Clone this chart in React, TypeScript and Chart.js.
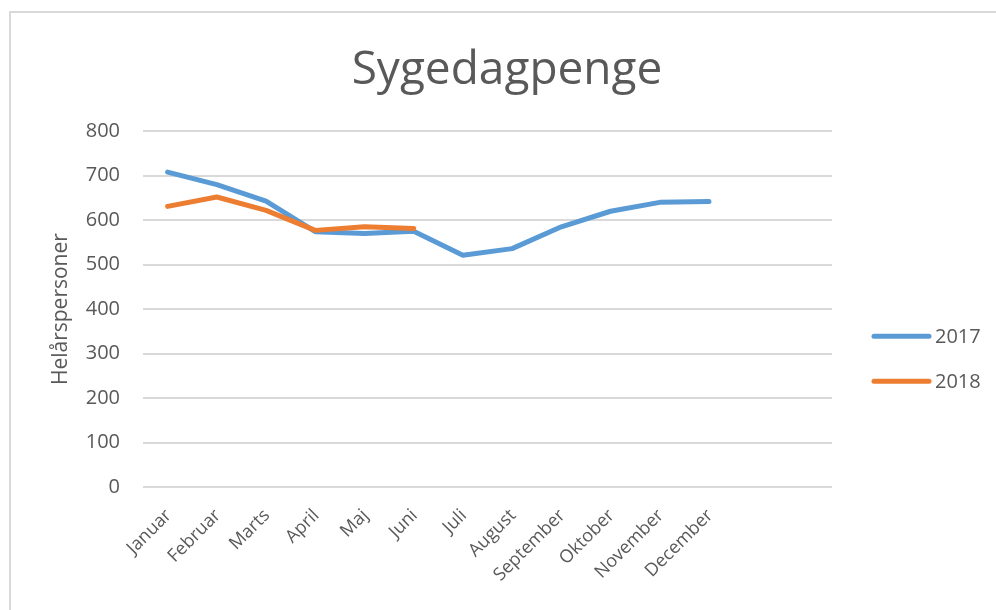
import React, { useEffect, useRef } from "react";
import { Chart, registerables } from "chart.js";

Chart.register(...registerables);

const months = [
  "Januar", "Februar", "Marts", "April", "Maj", "Juni",
  "Juli", "August", "September", "Oktober", "November", "December", "", "",
];
const values2017 = [708, 680, 643, 574, 570, 575, 521, 536, 585, 620, 640, 642, null, null];
const values2018 = [631, 652, 622, 577, 585, 581, null, null, null, null, null, null, null, null];
const yTicks = [0, 100, 200, 300, 400, 500, 600, 700, 800];

const TEXT = "#595959";
const FONT = '"Open Sans", "Noto Sans", sans-serif';

const sideLegend = {
  id: "sideLegend",
  afterDraw(chart: any) {
    const { ctx, chartArea } = chart;
    chart.data.datasets.forEach((ds: any, i: number) => {
      const y = chartArea.top + 205 + i * 45;
      const x0 = chartArea.right + 42;
      ctx.save();
      ctx.strokeStyle = ds.borderColor;
      ctx.lineWidth = 5;
      ctx.lineCap = "round";
      ctx.beginPath();
      ctx.moveTo(x0, y);
      ctx.lineTo(x0 + 55, y);
      ctx.stroke();
      ctx.fillStyle = TEXT;
      ctx.font = `20px ${FONT}`;
      ctx.textBaseline = "middle";
      ctx.textAlign = "left";
      ctx.fillText(ds.label, x0 + 61, y + 1);
      ctx.restore();
    });
  },
};

export default function App() {
  const ref = useRef<HTMLCanvasElement | null>(null);

  useEffect(() => {
    if (!ref.current) return;
    const chart = new Chart(ref.current, {
      type: "line",
      data: {
        labels: months,
        datasets: [
          {
            label: "2017",
            data: values2017,
            borderColor: "#5B9BD5",
            backgroundColor: "#5B9BD5",
            borderWidth: 5,
            pointRadius: 0,
            tension: 0,
            borderCapStyle: "round",
            borderJoinStyle: "round",
            order: 1,
          },
          {
            label: "2018",
            data: values2018,
            borderColor: "#ED7D31",
            backgroundColor: "#ED7D31",
            borderWidth: 5,
            pointRadius: 0,
            tension: 0,
            borderCapStyle: "round",
            borderJoinStyle: "round",
            order: 0,
          },
        ],
      },
      options: {
        responsive: false,
        animation: false,
        layout: { padding: { left: 18, right: 0, top: 0, bottom: 0 } },
        plugins: {
          legend: { display: false },
          tooltip: { enabled: false },
          title: {
            display: true,
            text: "Sygedagpenge",
            color: TEXT,
            font: { family: FONT, size: 46, weight: "normal" },
            padding: { top: 43, bottom: 33 },
          },
        },
        scales: {
          x: {
            type: "category",
            offset: true,
            grid: { display: false, drawTicks: false },
            border: { display: false },
            ticks: {
              color: TEXT,
              font: { family: FONT, size: 18 },
              minRotation: 45,
              maxRotation: 45,
              autoSkip: false,
              padding: 18,
              labelOffset: 1,
            },
            afterFit(scale: any) {
              scale.height = 123;
            },
          },
          y: {
            min: 0,
            max: 800,
            afterBuildTicks(scale: any) {
              scale.ticks = yTicks.map((v) => ({ value: v }));
            },
            grid: { color: "#d9d9d9", lineWidth: 2, drawTicks: false },
            border: { display: false },
            ticks: {
              color: TEXT,
              font: { family: FONT, size: 20 },
              padding: 23,
            },
            title: {
              display: true,
              text: "Helårspersoner",
              color: TEXT,
              font: { family: FONT, size: 21 },
              padding: { top: 30, bottom: 0 },
            },
            afterFit(scale: any) {
              scale.width = 125;
            },
          },
          spacer: {
            type: "linear",
            position: "right",
            display: true,
            grid: { display: false, drawTicks: false },
            border: { display: false },
            ticks: { display: false },
            afterFit(scale: any) {
              scale.width = 164;
            },
          },
        },
      },
      plugins: [sideLegend],
    } as any);
    return () => chart.destroy();
  }, []);

  return (
    <div
      style={{
        position: "fixed",
        left: 0,
        top: 0,
        width: 996,
        height: 610,
        overflow: "hidden",
        background: "#ffffff",
      }}
    >
      <div
        style={{
          position: "absolute",
          left: 9,
          top: 11,
          width: 1100,
          height: 800,
          border: "2px solid #d9d9d9",
          boxSizing: "border-box",
        }}
      />
      <canvas
        ref={ref}
        width={996}
        height={610}
        style={{ position: "absolute", left: 0, top: 0, width: 996, height: 610 }}
      />
    </div>
  );
}
